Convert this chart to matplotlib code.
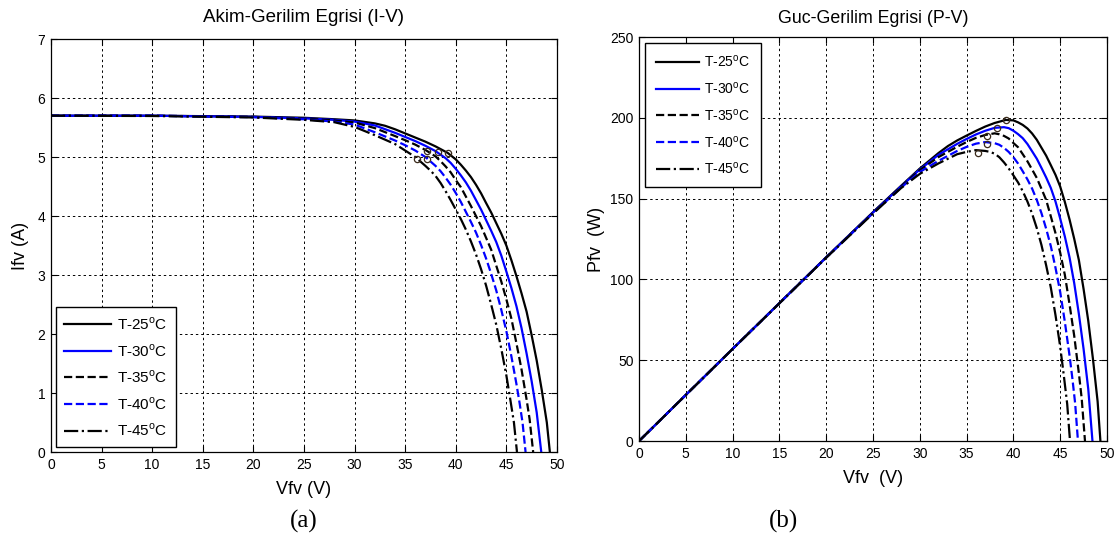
import matplotlib
matplotlib.use("Agg")
import matplotlib.pyplot as plt

plt.rcParams["font.family"] = ["Liberation Sans", "DejaVu Sans"]
plt.rcParams["mathtext.fontset"] = "custom"
plt.rcParams["mathtext.rm"] = "Liberation Sans"

# Courbes (tension V, courant A, puissance W)
labels = ["T-25$^\\mathrm{o}$C", "T-30$^\\mathrm{o}$C", "T-35$^\\mathrm{o}$C",
          "T-40$^\\mathrm{o}$C", "T-45$^\\mathrm{o}$C"]

v_25 = [0, 10, 20, 25, 28, 30, 32, 33, 34, 35, 36, 37, 38, 39.2, 40, 40.5, 41, 41.5, 42, 42.5,
        43, 43.5, 44, 44.5, 45, 45.5, 46, 46.5, 47, 47.5, 48, 48.5, 49, 49.3]
i_25 = [5.70, 5.70, 5.685, 5.665, 5.64, 5.62, 5.57, 5.53, 5.47, 5.40, 5.33, 5.26, 5.18, 5.07, 4.96, 4.87,
        4.77, 4.66, 4.53, 4.385, 4.22, 4.06, 3.88, 3.70, 3.50, 3.25, 2.98, 2.69, 2.38, 1.98, 1.55, 1.05,
        0.50, 0.0]
p_25 = [0, 57.0, 113.7, 141.6, 157.9, 168.6, 178.2, 182.5, 186.0, 189.0, 191.9, 194.6, 196.8, 198.7,
        198.4, 197.2, 195.6, 193.4, 190.3, 186.4, 181.5, 176.6, 170.7, 164.7, 157.5, 147.9, 137.1, 125.1,
        111.9, 94.1, 74.4, 50.9, 24.5, 0]

v_30 = [0, 10, 20, 25, 28, 30, 32, 34, 35, 36, 37, 38, 39, 39.5, 40, 40.5, 41, 41.5, 42, 42.5,
        43, 43.5, 44, 44.5, 45, 45.5, 46, 46.5, 47, 47.5, 48, 48.45]
i_30 = [5.70, 5.70, 5.68, 5.655, 5.63, 5.60, 5.535, 5.41, 5.34, 5.27, 5.19, 5.10, 4.98, 4.90, 4.80, 4.69,
        4.57, 4.43, 4.27, 4.11, 3.93, 3.75, 3.56, 3.33, 3.06, 2.78, 2.47, 2.10, 1.67, 1.20, 0.67, 0.0]
p_30 = [0, 57.0, 113.6, 141.4, 157.6, 168.0, 177.1, 183.9, 186.9, 189.7, 192.0, 193.8, 194.2, 193.6,
        192.0, 189.9, 187.4, 183.8, 179.3, 174.7, 169.0, 163.1, 156.6, 148.2, 137.7, 126.5, 113.6, 97.7,
        78.5, 57.0, 32.2, 0]

v_35 = [0, 10, 20, 25, 28, 30, 32, 34, 35, 36, 37, 38, 38.5, 39, 39.5, 40, 40.5, 41, 41.5, 42,
        42.5, 43, 43.5, 44, 44.5, 45, 45.5, 46, 46.5, 47, 47.3, 47.65]
i_35 = [5.70, 5.70, 5.68, 5.65, 5.62, 5.585, 5.49, 5.355, 5.285, 5.21, 5.12, 5.01, 4.93, 4.84, 4.74,
        4.61, 4.49, 4.33, 4.17, 4.00, 3.83, 3.63, 3.43, 3.16, 2.89, 2.59, 2.26, 1.84, 1.40, 0.89, 0.555, 0.0]
p_35 = [0, 57.0, 113.6, 141.3, 157.4, 167.6, 175.7, 182.1, 185.0, 187.6, 189.4, 190.4, 189.8, 188.8,
        187.2, 184.4, 181.8, 177.5, 173.1, 168.0, 162.8, 156.1, 149.2, 139.0, 128.6, 116.6, 102.8, 84.6,
        65.1, 41.8, 26.3, 0]

v_40 = [0, 10, 20, 25, 28, 30, 32, 34, 35, 36, 37, 38, 38.5, 39, 39.5, 40, 40.5, 41, 41.5, 42,
        42.5, 43, 43.5, 44, 44.5, 45, 45.5, 46, 46.3, 46.6, 46.9]
i_40 = [5.70, 5.70, 5.675, 5.64, 5.60, 5.55, 5.42, 5.28, 5.20, 5.11, 5.00, 4.85, 4.76, 4.65, 4.53,
        4.39, 4.24, 4.07, 3.90, 3.72, 3.51, 3.28, 3.02, 2.74, 2.41, 2.05, 1.62, 1.15, 0.84, 0.50, 0.0]
p_40 = [0, 57.0, 113.5, 141.0, 156.8, 166.5, 173.4, 179.5, 182.0, 184.0, 185.0, 184.3, 183.3, 181.4,
        178.9, 175.6, 171.7, 166.9, 161.9, 156.2, 149.2, 141.0, 131.4, 120.6, 107.2, 92.3, 73.7, 52.9,
        38.9, 23.3, 0]

v_45 = [0, 10, 20, 25, 28, 30, 32, 34, 35, 36, 37, 37.5, 38, 38.5, 39, 39.5, 40, 40.5, 41, 41.5,
        42, 42.5, 43, 43.5, 44, 44.5, 45, 45.4, 45.75, 46.05]
i_45 = [5.70, 5.695, 5.67, 5.63, 5.59, 5.51, 5.37, 5.22, 5.11, 5.00, 4.85, 4.77, 4.68, 4.56, 4.42,
        4.27, 4.11, 3.95, 3.77, 3.57, 3.35, 3.10, 2.82, 2.50, 2.16, 1.75, 1.30, 0.88, 0.50, 0.0]
p_45 = [0, 56.95, 113.4, 140.75, 156.5, 165.3, 171.8, 177.5, 178.9, 180.0, 179.5, 178.9, 177.8, 175.6,
        172.4, 168.7, 164.4, 160.0, 154.6, 148.2, 140.7, 131.75, 121.3, 108.75, 95.0, 77.9, 58.5, 40.0,
        22.9, 0]

# Points de puissance maximale (marqueurs o)
mpp_v = [39.2, 38.2, 37.2, 37.2, 36.2]
mpp_i = [5.07, 5.08, 5.10, 4.96, 4.96]
mpp_p = [198.5, 193.5, 188.7, 183.5, 178.5]

COLORS = ["black", "#0000ff", "black", "#0000ff", "black"]
STYLES = ["-", "-", "--", "--", "-."]


def style_axes(ax, ylim, yticks):
    ax.set_xlim(0, 50)
    ax.set_ylim(*ylim)
    ax.set_xticks(range(0, 51, 5))
    ax.set_yticks(yticks)
    ax.tick_params(direction="in", top=True, right=True, labelsize=10, length=4, width=0.8, pad=4)
    ax.grid(True, color="black", linestyle=(0, (2.5, 3)), linewidth=0.7)
    for spine in ax.spines.values():
        spine.set_linewidth(0.9)


def draw_curves(ax, volts, values, mpp_x, mpp_y):
    for v, y, c, ls, lab in zip(volts, values, COLORS, STYLES, labels):
        ax.plot(v, y, color=c, linestyle=ls, linewidth=1.6, label=lab)
    ax.plot(mpp_x, mpp_y, "o", color="#3a2a1a", mfc="none", ms=4.5, mew=0.9, linestyle="none")


def make_legend(ax, loc, size, spacing, pad, axpad):
    leg = ax.legend(loc=loc, fontsize=size, handlelength=3.1, labelspacing=spacing, borderpad=pad,
                    handletextpad=0.4, borderaxespad=axpad, fancybox=False, framealpha=1,
                    edgecolor="black")
    leg.get_frame().set_linewidth(1.0)


def main():
    fig = plt.figure(figsize=(11.15, 5.41), dpi=100)
    ax1 = fig.add_axes([0.0457, 0.1645, 0.4538, 0.7634])
    ax2 = fig.add_axes([0.5731, 0.1848, 0.4197, 0.7468])

    volts = [v_25, v_30, v_35, v_40, v_45]

    # (a) courant-tension
    draw_curves(ax1, volts, [i_25, i_30, i_35, i_40, i_45], mpp_v, mpp_i)
    style_axes(ax1, (0, 7), range(0, 8))
    ax1.set_title("Akim-Gerilim Egrisi (I-V)", fontsize=13.5, pad=12)
    ax1.set_xlabel("Vfv (V)", fontsize=13, labelpad=7)
    ax1.set_ylabel("Ifv (A)", fontsize=13, labelpad=6)
    make_legend(ax1, "lower left", 11, 0.65, 0.55, 0.3)

    # (b) puissance-tension
    draw_curves(ax2, volts, [p_25, p_30, p_35, p_40, p_45], mpp_v, mpp_p)
    style_axes(ax2, (0, 250), range(0, 251, 50))
    ax2.set_title("Guc-Gerilim Egrisi (P-V)", fontsize=12.8, pad=10)
    ax2.set_xlabel("Vfv  (V)", fontsize=13, labelpad=7)
    ax2.set_ylabel("Pfv  (W)", fontsize=13, labelpad=4)
    make_legend(ax2, "upper left", 10, 0.78, 0.75, 0.45)

    fig.text(0.2722, 0.037, "(a)", fontsize=18, family="Liberation Serif", ha="center", va="center")
    fig.text(0.7027, 0.037, "(b)", fontsize=18, family="Liberation Serif", ha="center", va="center")

    fig.savefig("out.png", dpi=100)
    plt.close(fig)


if __name__ == "__main__":
    main()
